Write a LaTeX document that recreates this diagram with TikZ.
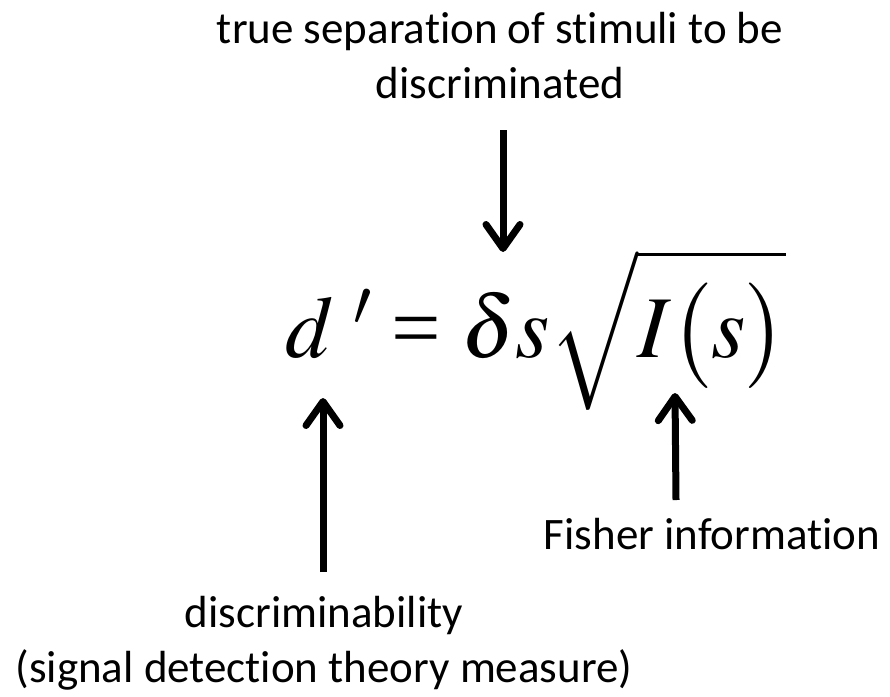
\documentclass[tikz,border=0pt]{standalone}
\usepackage{amsmath}
\usepackage{mathptmx}
\usepackage[no-math]{fontspec}
\setmainfont{Carlito}[Ligatures=CommonOff]
\newfontfamily\timesfont{Liberation Serif}
\usetikzlibrary{arrows.meta,positioning}

\begin{document}
\begin{tikzpicture}[
  x=1pt, y=-1pt,
  lbl/.style={font=\fontsize{45}{55}\selectfont, align=center, inner sep=0pt},
  eqn/.style={font=\fontsize{88}{100}\selectfont, inner sep=0pt},
  arr/.style={line width=7pt, -{Straight Barb[length=24pt, width=34pt, round]}}
]
\useasboundingbox (0,0) rectangle (890,696);

% labels and formula
\node[lbl] (sep) at (500,56) {true separation of stimuli to be\\discriminated};
\node[eqn] (eq) at (536,330) {$d\mkern4mu'\mathrel{\hbox{\timesfont =}}\delta s\sqrt{I\bigl(s\bigr)}$};
\node[lbl, anchor=base] (fisher) at (712,549) {Fisher information};
\node[lbl] (disc) at (324,643) {discriminability\\(signal detection theory measure)};

% arrow ends
\coordinate (sepend) at (503,130);
\coordinate (sepdelta) at (503,252);
\coordinate (dstart) at (323,572);
\coordinate (dtip) at (323,398);
\coordinate (fstart) at (676,500);
\coordinate (ftip) at (675,393);

\draw[arr] (sepend) -- (sepdelta);
\draw[arr] (dstart) -- (dtip);
\draw[arr] (fstart) -- (ftip);
\end{tikzpicture}
\end{document}
